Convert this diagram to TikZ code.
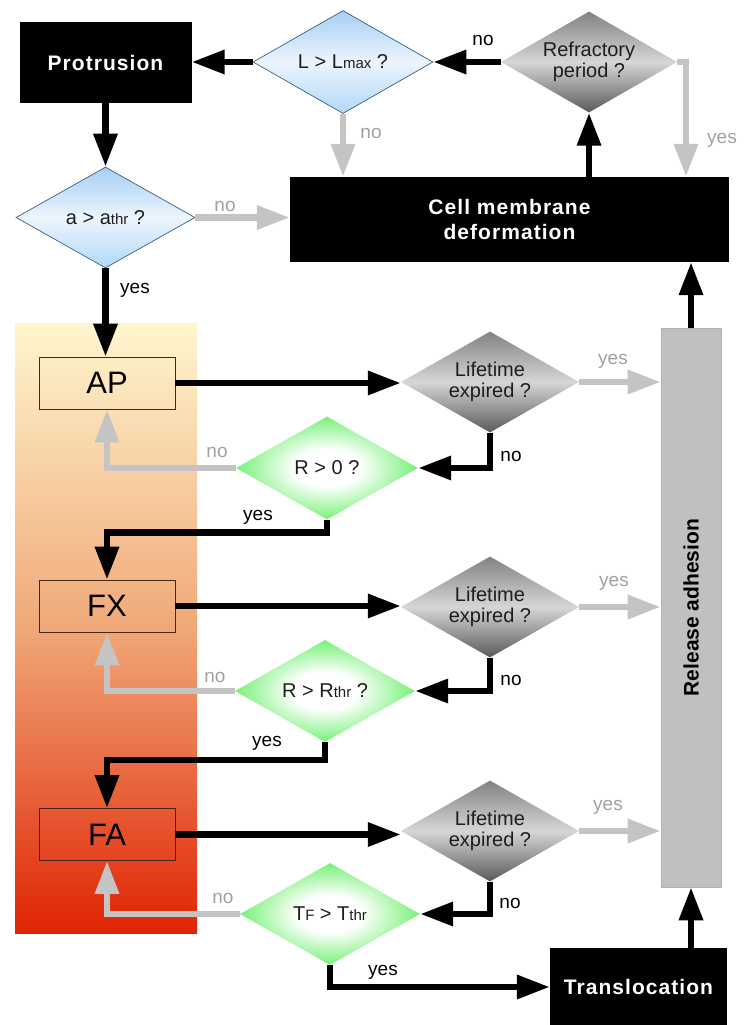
\documentclass[tikz,border=0pt]{standalone}
\usepackage{fontspec}
\setmainfont{Liberation Sans}
\usetikzlibrary{shapes.geometric,arrows.meta}
\definecolor{gC}{RGB}{0,228,0}
\definecolor{arrG}{RGB}{196,196,196}
\definecolor{lblG}{RGB}{160,160,160}
\definecolor{relG}{RGB}{192,192,192}
\definecolor{relB}{RGB}{176,176,176}
\definecolor{bT}{RGB}{166,206,244}
\definecolor{bM}{RGB}{236,245,253}
\definecolor{bB}{RGB}{178,216,248}
\definecolor{bD}{RGB}{60,95,130}
\definecolor{dT}{RGB}{130,130,130}
\definecolor{dM}{RGB}{214,214,214}
\definecolor{dB}{RGB}{90,90,90}
\definecolor{oT}{RGB}{255,246,206}
\definecolor{oM}{RGB}{240,168,120}
\definecolor{oB}{RGB}{224,36,4}
\definecolor{txtD}{RGB}{30,30,30}
\definecolor{stgB}{RGB}{70,40,20}
\pgfdeclareradialshading{gdiam}{\pgfpoint{0bp}{0bp}}{color(0bp)=(white); color(9bp)=(white); color(24bp)=(gC!50!white); color(38bp)=(gC); color(50bp)=(gC)}
\newcommand\lowpart[1]{{\fontsize{15}{15}\selectfont #1}}
\tikzset{
  blackbox/.style={rectangle, fill=black, text=white, inner sep=0pt, align=center,
    font=\bfseries\fontsize{21}{25}\selectfont\addfontfeature{LetterSpace=5}},
  stagebox/.style={rectangle, draw=stgB, line width=0.8pt, minimum width=136pt,
    minimum height=52pt, inner sep=0pt, font=\fontsize{31}{31}\selectfont},
  dbase/.style={diamond, shape aspect=1.76, inner sep=0pt, minimum width=178pt,
    minimum height=101pt, align=center, text=txtD, font=\fontsize{20}{21}\selectfont},
  bluediam/.style={dbase, draw=bD, line width=0.7pt, top color=bT, bottom color=bB, middle color=bM},
  graydiam/.style={dbase, top color=dT, bottom color=dB, middle color=dM},
  greendiam/.style={dbase, shading=gdiam},
  lblk/.style={font=\fontsize{19}{19}\selectfont, text=black, inner sep=0pt},
  lgry/.style={lblk, text=lblG},
  blk/.style={draw=black, line width=6.5pt, -{Triangle[length=33pt,width=23pt]}},
  gry/.style={blk, draw=arrG},
}
\begin{document}
\begin{tikzpicture}[x=1pt,y=-1pt]
\useasboundingbox (0,0) rectangle (746,1025);
\fill[top color=oT, bottom color=oB, middle color=oM] (15,323) rectangle (197,933);

% nodes
\node[blackbox, minimum width=172pt, minimum height=81pt] (prot) at (105.5,62.5) {Protrusion};
\node[bluediam, minimum width=180pt, minimum height=103pt] (lmax) at (343,62) {L > L\lowpart{max} ?};
\node[graydiam, minimum width=176pt, minimum height=101pt] (refr) at (589,62) {Refractory\\period ?};
\node[blackbox, minimum width=439pt, minimum height=85pt] (cell) at (509.5,219.5) {Cell membrane\\deformation};
\node[bluediam, minimum width=179pt, minimum height=101pt] (athr) at (105.5,217.5) {a > a\lowpart{thr} ?};

\node[stagebox] (AP) at (107,383) {AP};
\node[stagebox] (FX) at (107,606) {FX};
\node[stagebox] (FA) at (107,834.5) {FA};

\node[graydiam] (life1) at (490,382) {Lifetime\\expired ?};
\node[graydiam] (life2) at (490,607) {Lifetime\\expired ?};
\node[graydiam] (life3) at (490,831) {Lifetime\\expired ?};

\node[greendiam, minimum width=182pt, minimum height=103pt] (r0) at (327,468) {R > 0 ?};
\node[greendiam, minimum width=180pt, minimum height=102pt] (rthr) at (325,691) {R > R\lowpart{thr} ?};
\node[greendiam, minimum width=180pt, minimum height=102pt] (tthr) at (330,914) {T\lowpart{F} > T\lowpart{thr}};

\node[rectangle, fill=relG, draw=relB, line width=0.6pt, minimum width=60pt, minimum height=559pt, inner sep=0pt] (rel) at (691,607.5) {};
\node[rotate=90, inner sep=0pt, font=\bfseries\fontsize{21}{21}\selectfont] (reltxt) at (rel.center) {Release adhesion};
\node[blackbox, minimum width=177pt, minimum height=78pt] (trans) at (638.5,987) {Translocation};

\coordinate (ryes) at (686,0);

% connectors
\draw[blk] (lmax.west) -- (lmax.west -| prot.east);
\draw[blk] (refr.west) -- (lmax.east);
\draw[gry] (refr.east) -| (ryes |- cell.north);
\draw[blk] (cell.north -| refr.south) -- (refr.south);
\draw[gry] (lmax.south) -- (lmax.south |- cell.north);
\draw[blk] (prot.south) -- (athr.north);
\draw[gry] (athr.east) -- (athr.east -| cell.west);
\draw[blk] (athr.south) -- (athr.south |- AP.north);

\draw[blk] (AP.east) -- (AP.east -| life1.west);
\draw[gry] (life1.east) -- (life1.east -| rel.west);
\draw[blk] (life1.south) |- (r0.east);
\draw[gry] (r0.west) -| (AP.south);
\draw[blk] (r0.south) -- ++(0,13) -| (FX.north);

\draw[blk] (FX.east) -- (FX.east -| life2.west);
\draw[gry] (life2.east) -- (life2.east -| rel.west);
\draw[blk] (life2.south) |- (rthr.east);
\draw[gry] (rthr.west) -| (FX.south);
\draw[blk] (rthr.south) -- ++(0,18) -| (FA.north);

\draw[blk] (FA.east) -- (FA.east -| life3.west);
\draw[gry] (life3.east) -- (life3.east -| rel.west);
\draw[blk] (life3.south) |- (tthr.east);
\draw[gry] (tthr.west) -| (FA.south);
\draw[blk] (tthr.south) |- (trans.west);
\draw[blk] (rel.south |- trans.north) -- (rel.south);
\draw[blk] (rel.north) -- (rel.north |- cell.south);

% labels
\node[lblk] (lb1) at (483,40) {no};
\node[lgry] (lb2) at (722,140) {yes};
\node[lgry] (lb3) at (371,133) {no};
\node[lgry] (lb4) at (225,206) {no};
\node[lblk] (lb5) at (135,290) {yes};
\node[lgry] (lb6) at (613,361) {yes};
\node[lblk] (lb7) at (511,456) {no};
\node[lgry] (lb8) at (217,452) {no};
\node[lblk] (lb9) at (258,517) {yes};
\node[lgry] (lb10) at (614,583) {yes};
\node[lblk] (lb11) at (511,680) {no};
\node[lgry] (lb12) at (215,677) {no};
\node[lblk] (lb13) at (267,743) {yes};
\node[lgry] (lb14) at (608,807) {yes};
\node[lblk] (lb15) at (510,903) {no};
\node[lgry] (lb16) at (223,898) {no};
\node[lblk] (lb17) at (383,972) {yes};
\end{tikzpicture}
\end{document}
